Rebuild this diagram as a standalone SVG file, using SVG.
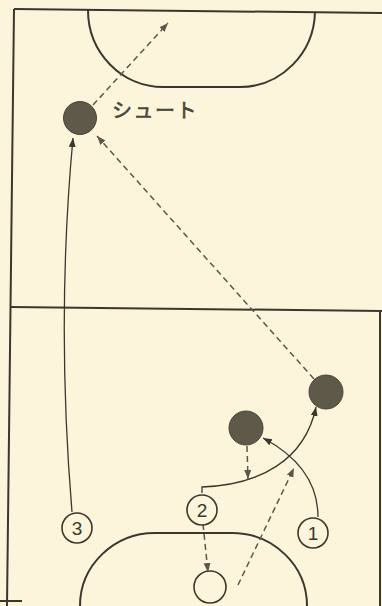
<svg xmlns="http://www.w3.org/2000/svg" width="382" height="606" viewBox="0 0 382 606">
<style>
.court{fill:none;stroke:#3b372c;stroke-width:2}
.ply{fill:#5f594a;stroke:#4a4538;stroke-width:1}
.num{fill:#fcf5dc;stroke:#3b372c;stroke-width:1.6}
.numt{font-family:"Liberation Sans",Arial,sans-serif;font-size:19px;fill:#3b372c;text-anchor:middle}
.solid{fill:none;stroke:#3b372c;stroke-width:1.3}
.dash{fill:none;stroke:#5d574a;stroke-width:1.5;stroke-dasharray:6 4}
.lbl{font-family:"Noto Sans CJK JP","Noto Sans",sans-serif;font-size:20px;fill:#4a4538;stroke:#4a4538;stroke-width:0.6;letter-spacing:1.5px}
</style>
<defs>
<marker id="ah" markerUnits="userSpaceOnUse" markerWidth="10" markerHeight="8" refX="9" refY="3.5" orient="auto">
<path d="M0,0 L9,3.5 L0,7 z" fill="#3b372c"/>
</marker>
<marker id="ahd" markerUnits="userSpaceOnUse" markerWidth="10" markerHeight="8" refX="9" refY="3.5" orient="auto">
<path d="M0,0 L9,3.5 L0,7 z" fill="#5d574a"/>
</marker>
</defs>
<rect width="382" height="606" fill="#fcf5dc"/>
<g id="court">
<path class="court" d="M14,9 L382,13"/>
<path class="court" d="M14,9 L7,606"/>
<path class="court" d="M11,307 L382,311"/>
<path class="court" d="M380,312 L380,606"/>
<path class="court" d="M0,601 L22,601"/>
<path class="court" d="M88,10 A75,77 0 0 0 163,87 L240,87 A75,77 0 0 0 315,12"/>
<path class="court" d="M80,606 A75,73 0 0 1 155,533 L232,533 A75,73 0 0 1 307,606"/>
</g>
<g id="connectors">
<path class="dash" d="M93,105 L168,23" marker-end="url(#ahd)"/>
<path class="dash" d="M314,379 L97,136" marker-end="url(#ahd)"/>
<path class="solid" d="M72,512 Q56,320 73,138" marker-end="url(#ah)"/>
<path class="solid" d="M202,493 L202,487 C260,485 305,460 316,407" marker-end="url(#ah)"/>
<path class="dash" d="M247,446 L248,479" marker-end="url(#ahd)"/>
<path class="solid" d="M318,517 C318,480 295,455 263,438" marker-end="url(#ah)"/>
<path class="dash" d="M203,524 L208,572" marker-end="url(#ahd)"/>
<path class="dash" d="M238,585 L294,468" marker-end="url(#ahd)"/>
</g>
<g id="shooter">
<circle class="ply" cx="80" cy="118" r="16.5"/>
<text class="lbl" x="112" y="118">シュート</text>
</g>
<g id="defender-upper">
<circle class="ply" cx="326" cy="392" r="17"/>
</g>
<g id="defender-mid">
<circle class="ply" cx="246" cy="428" r="17"/>
</g>
<g id="player-3">
<circle class="num" cx="77" cy="528" r="15"/>
<text class="numt" x="77" y="535">3</text>
</g>
<g id="player-2">
<circle class="num" cx="202" cy="510" r="15"/>
<text class="numt" x="202" y="517">2</text>
</g>
<g id="player-1">
<circle class="num" cx="313" cy="533" r="15"/>
<text class="numt" x="313" y="540">1</text>
</g>
<g id="player-empty">
<circle class="num" cx="210" cy="587" r="16"/>
</g>
</svg>
